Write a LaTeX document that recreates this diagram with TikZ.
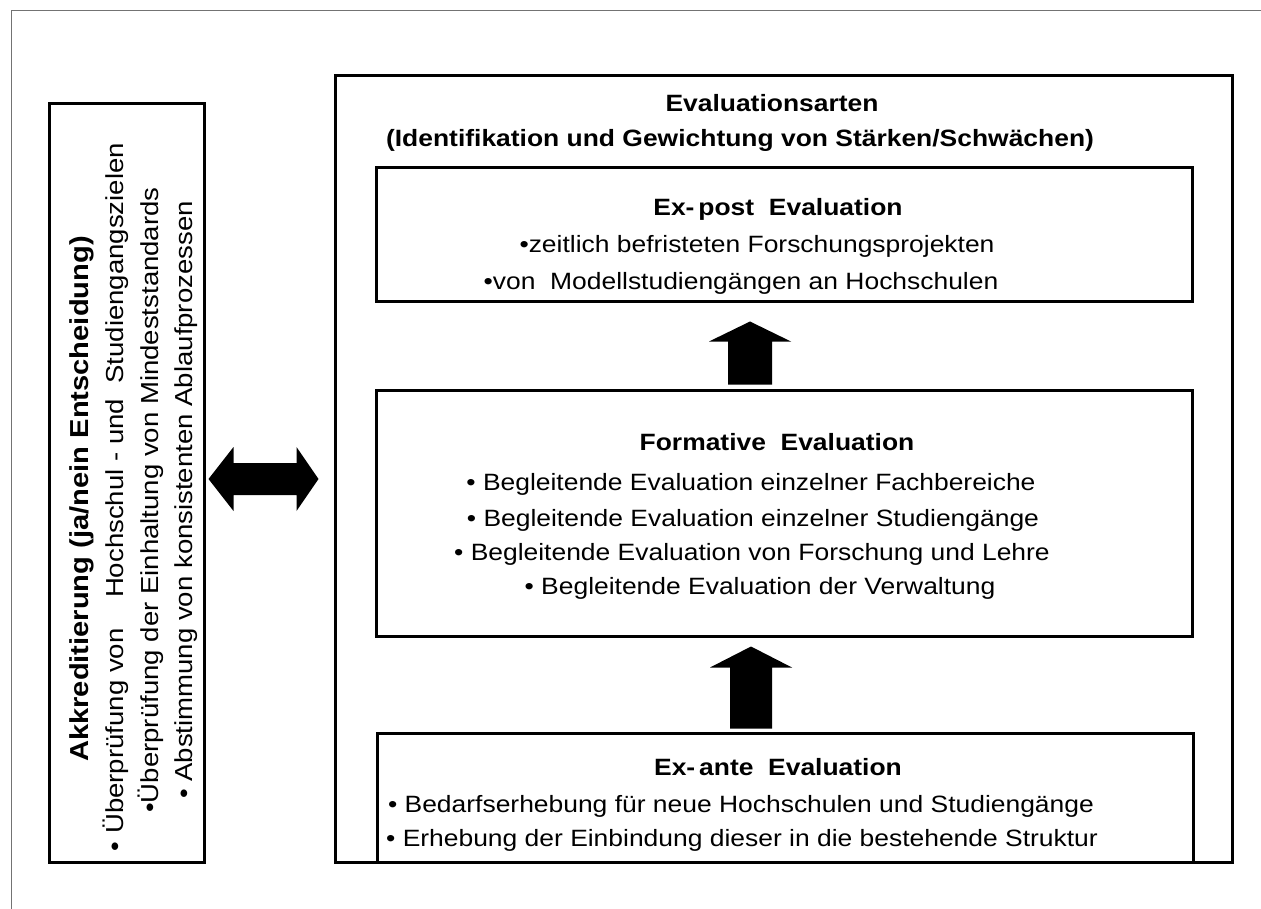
\documentclass[tikz,border=0pt]{standalone}
\usepackage{fontspec}
\setmainfont{Liberation Sans}[FakeStretch=1.12]
\begin{document}
\begin{tikzpicture}[x=1pt,y=-1pt,
  frameline/.style={draw=black!55, line width=1pt},
  box/.style={draw=black, line width=3pt, inner sep=0pt, fill=none},
  txt/.style={inner sep=0pt, anchor=base, font=\fontsize{23.6}{28}\selectfont},
  ttl/.style={inner sep=0pt, anchor=base, font=\fontsize{23.6}{28}\selectfont\bfseries},
  vtxt/.style={inner sep=0pt, anchor=base, rotate=90, font=\fontsize{24.6}{29}\selectfont},
  vttl/.style={inner sep=0pt, anchor=base, rotate=90, font=\fontsize{26}{31}\selectfont\bfseries},
  blockarrow/.style={fill=black}]
\useasboundingbox (0,0) rectangle (1261,909);

% page frame (top and left edge)
\coordinate (fa) at (11,909);
\coordinate (fb) at (11,11);
\coordinate (fc) at (1261,11);
\draw[frameline] (fa) -- (fb) -- (fc);

% boxes
\node[box, minimum width=155, minimum height=758] (akk) at (126.5,483) {};
\node[box, minimum width=897, minimum height=786] (outer) at (783.5,469) {};
\node[box, minimum width=816, minimum height=134] (expost) at (784,235) {};
\node[box, minimum width=816, minimum height=246] (formative) at (784,513) {};
\node[box, minimum width=816, minimum height=129] (exante) at (785,797.5) {};

% accreditation (rotated)
\node[vttl] (akkT) at (88,499) {Akkreditierung (ja/nein Entscheidung)};
\node[vtxt] (akkA) at (123,497) {• Überprüfung von\ \ \ \ Hochschul - und\ \ Studiengangszielen};
\node[vtxt] (akkB) at (158,500) {•Überprüfung der Einhaltung von Mindeststandards};
\node[vtxt] (akkC) at (192,500) {• Abstimmung von konsistenten Ablaufprozessen};

% heading of the evaluation types
\node[ttl] (h1) at (772,112) {Evaluationsarten};
\node[ttl] (h2) at (740,147) {(Identifikation und Gewichtung von Stärken/Schwächen)};

% ex-post
\node[ttl] (ep0) at (778,216) {Ex-\,post\ \ Evaluation};
\node[txt] (ep1) at (757,253) {•zeitlich befristeten Forschungsprojekten};
\node[txt] (ep2) at (741,290) {•von\ \ Modellstudiengängen an Hochschulen};

% formative
\node[ttl] (fo0) at (777,450) {Formative\ \ Evaluation};
\node[txt] (fo1) at (751,490) {• Begleitende Evaluation einzelner Fachbereiche};
\node[txt] (fo2) at (753,526) {• Begleitende Evaluation einzelner Studiengänge};
\node[txt] (fo3) at (752,560) {• Begleitende Evaluation von Forschung und Lehre};
\node[txt] (fo4) at (760,594) {• Begleitende Evaluation der Verwaltung};

% ex-ante
\node[ttl] (ea0) at (778,775) {Ex-\,ante\ \ Evaluation};
\node[txt] (ea1) at (741,812) {• Bedarfserhebung für neue Hochschulen und Studiengänge};
\node[txt] (ea2) at (742,846) {• Erhebung der Einbindung dieser in die bestehende Struktur};

% block arrows between the boxes (yshift is in canvas direction: negative = down)
\coordinate (up1) at ([xshift=-34,yshift=-18]expost.south);
\fill[blockarrow] (up1) -- ++(41,20) -- ++(-19,0) -- ++(0,43) -- ++(-44,0) -- ++(0,-43) -- ++(-19,0) -- cycle;
\coordinate (up2) at ([xshift=-33,yshift=-9]formative.south);
\fill[blockarrow] (up2) -- ++(41,21) -- ++(-20,0) -- ++(0,61) -- ++(-42,0) -- ++(0,-61) -- ++(-20,0) -- cycle;
\coordinate (dbl) at ([xshift=3,yshift=4]akk.east);
\fill[blockarrow] (dbl) -- ++(25,-32) -- ++(0,16) -- ++(63,0) -- ++(0,-16) -- ++(22,32)
  -- ++(-22,32) -- ++(0,-16) -- ++(-63,0) -- ++(0,16) -- cycle;
\end{tikzpicture}
\end{document}
